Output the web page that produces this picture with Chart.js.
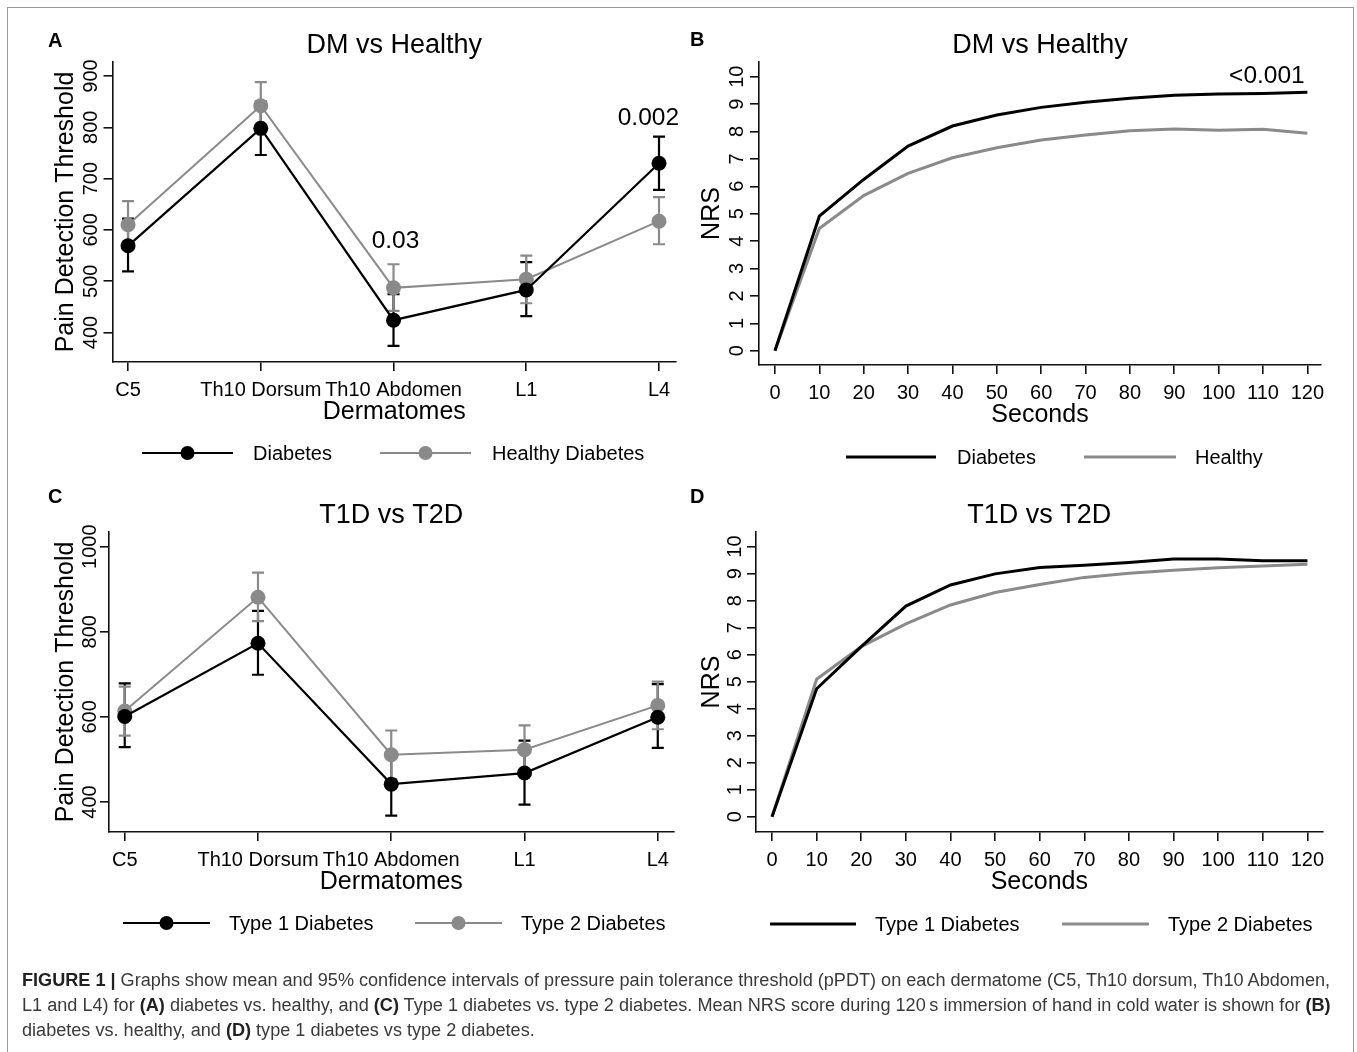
<html lang="en">
<head>
  <meta charset="UTF-8" />
  <title>Figure 1</title>
  <script src="https://cdn.jsdelivr.net/npm/chart.js"></script>
  <style>
    body { margin: 0; width: 1357px; height: 1052px; overflow: hidden; background: #fff; position: relative;
           font-family: "Liberation Sans", Arial, sans-serif; }
    #frame { position: absolute; left: 7px; top: 7px; width: 1345px; height: 1100px; border: 1.5px solid #999; }
    canvas { position: absolute; left: 0; top: 0; }
    .cap { position: absolute; left: 22px; white-space: nowrap; font-size: 18px; line-height: 22px; color: #3a3a3a; transform-origin: 0 0; }
    .cap b { color: #222; }
  </style>
</head>
<body>
  <div id="frame"></div>
  <canvas id="chartA" width="1357" height="1052"></canvas>
  <canvas id="chartB" width="1357" height="1052"></canvas>
  <canvas id="chartC" width="1357" height="1052"></canvas>
  <canvas id="chartD" width="1357" height="1052"></canvas>

  <div class="cap" style="top:969px"><b>FIGURE 1 |</b> Graphs show mean and 95% confidence intervals of pressure pain tolerance threshold (pPDT) on each dermatome (C5, Th10 dorsum, Th10 Abdomen,</div>
  <div class="cap" style="top:994px">L1 and L4) for <b>(A)</b> diabetes vs. healthy, and <b>(C)</b> Type 1 diabetes vs. type 2 diabetes. Mean NRS score during 120&thinsp;s immersion of hand in cold water is shown for <b>(B)</b></div>
  <div class="cap" style="top:1019px">diabetes vs. healthy, and <b>(D)</b> type 1 diabetes vs type 2 diabetes.</div>

  <script>
    // categories / ticks
    const dermatomes = ['C5', 'Th10 Dorsum', 'Th10 Abdomen', 'L1', 'L4'];
    const seconds = [0, 10, 20, 30, 40, 50, 60, 70, 80, 90, 100, 110, 120];
    const pdtTicksA = [400, 500, 600, 700, 800, 900];
    const pdtTicksC = [400, 600, 800, 1000];
    const nrsTicks = [0, 1, 2, 3, 4, 5, 6, 7, 8, 9, 10];

    // A: pain detection threshold, DM vs healthy (mean, 95% CI)
    const dmMean = [569, 798, 424, 483, 730];
    const dmLo = [519, 746, 374, 432, 678];
    const dmHi = [622, 850, 475, 537, 782];
    const healthyMean = [610, 842, 487, 504, 617];
    const healthyLo = [563, 795, 442, 457, 572];
    const healthyHi = [656, 888, 533, 550, 664];

    // B: NRS over time, DM vs healthy
    const dmNrs = [0, 4.91, 6.25, 7.47, 8.2, 8.6, 8.88, 9.07, 9.21, 9.32, 9.37, 9.39, 9.43];
    const healthyNrs = [0, 4.46, 5.66, 6.47, 7.04, 7.41, 7.69, 7.87, 8.03, 8.09, 8.05, 8.08, 7.94];

    // C: pain detection threshold, T1D vs T2D
    const t1Mean = [601, 773, 442, 468, 599];
    const t1Lo = [529, 699, 368, 394, 527];
    const t1Hi = [679, 849, 516, 544, 677];
    const t2Mean = [614, 881, 511, 523, 627];
    const t2Lo = [556, 825, 454, 466, 571];
    const t2Hi = [671, 939, 568, 580, 683];

    // D: NRS over time, T1D vs T2D
    const t1Nrs = [0, 4.74, 6.3, 7.8, 8.58, 8.99, 9.23, 9.31, 9.41, 9.54, 9.54, 9.48, 9.48];
    const t2Nrs = [0, 5.09, 6.3, 7.14, 7.84, 8.3, 8.6, 8.86, 9.01, 9.12, 9.22, 9.28, 9.35];

    const FONT = '"Liberation Sans", Arial, sans-serif';
    const BLACK = '#000';
    const GRAY = '#8a8a8a';

    function txt(ctx, s, x, y, size, o = {}) {
      ctx.save();
      ctx.font = (o.bold ? 'bold ' : '') + size + 'px ' + FONT;
      ctx.fillStyle = o.color || '#000';
      ctx.textAlign = o.align || 'center';
      ctx.textBaseline = 'alphabetic';
      ctx.translate(x, y);
      if (o.rot) ctx.rotate(o.rot);
      ctx.fillText(s, 0, 0);
      ctx.restore();
    }

    // error bars, titles, tick labels, notes and legend
    const deco = {
      id: 'deco',
      beforeDatasetsDraw(chart) {
        const ctx = chart.ctx, xs = chart.scales.x, ys = chart.scales.y;
        chart.data.datasets.forEach(ds => {
          if (!ds.lo) return;
          ctx.save();
          ctx.strokeStyle = ds.borderColor;
          ctx.lineWidth = 2.2;
          ds.data.forEach((p, i) => {
            const x = xs.getPixelForValue(p.x);
            const y1 = ys.getPixelForValue(ds.lo[i]), y2 = ys.getPixelForValue(ds.hi[i]);
            ctx.beginPath();
            ctx.moveTo(x, y1); ctx.lineTo(x, y2);
            ctx.moveTo(x - 6, y1); ctx.lineTo(x + 6, y1);
            ctx.moveTo(x - 6, y2); ctx.lineTo(x + 6, y2);
            ctx.stroke();
          });
          ctx.restore();
        });
      },
      afterDraw(chart, args, o) {
        const ctx = chart.ctx, a = chart.chartArea, xs = chart.scales.x, ys = chart.scales.y;
        const midX = (a.left + a.right) / 2, midY = (a.top + a.bottom) / 2;
        txt(ctx, o.letter, o.letterX, o.letterY, 20, { bold: true, align: 'left' });
        txt(ctx, o.title, midX, a.top - 9, 27);
        xs.ticks.forEach(t => txt(ctx, o.xLabel(t.value), xs.getPixelForValue(t.value), a.bottom + 34, 20));
        ys.ticks.forEach(t => txt(ctx, String(t.value), a.left - o.yOff, ys.getPixelForValue(t.value), 20, { rot: -Math.PI / 2 }));
        txt(ctx, o.xTitle, midX, a.bottom + 57, 25);
        txt(ctx, o.yTitle, a.left - o.yTitleOff, midY, 25, { rot: -Math.PI / 2 });
        (o.notes || []).forEach(n =>
          txt(ctx, n.text, xs.getPixelForValue(n.x), ys.getPixelForValue(n.y), 24.5, { align: n.align || 'center' }));
        chart.data.datasets.forEach((ds, i) => {
          const L = o.legend[i];
          ctx.save();
          ctx.strokeStyle = ds.borderColor;
          ctx.lineWidth = ds.borderWidth;
          ctx.beginPath(); ctx.moveTo(L.x0, L.y); ctx.lineTo(L.x1, L.y); ctx.stroke();
          if (ds.pointRadius > 0) {
            ctx.fillStyle = ds.borderColor;
            ctx.beginPath(); ctx.arc((L.x0 + L.x1) / 2, L.y, ds.pointRadius - 0.5, 0, 2 * Math.PI); ctx.fill();
          }
          ctx.restore();
          txt(ctx, ds.label, L.tx, L.y + 7, 20, { align: 'left' });
        });
      }
    };

    function axes(xr, yr, xTicks, yTicks) {
      const common = {
        type: 'linear',
        border: { display: true, color: '#111', width: 1.6 },
        grid: { display: true, drawOnChartArea: false, drawTicks: true, tickLength: 9, color: '#111', lineWidth: 1.6 },
        ticks: { display: false }
      };
      return {
        x: { ...common, min: xr[0], max: xr[1], afterBuildTicks: s => { s.ticks = xTicks.map(v => ({ value: v })); } },
        y: { ...common, min: yr[0], max: yr[1], afterBuildTicks: s => { s.ticks = yTicks.map(v => ({ value: v })); } }
      };
    }

    function series(label, xs, ys, color, width, radius, lo, hi) {
      return {
        label, data: xs.map((x, i) => ({ x, y: ys[i] })),
        borderColor: color, backgroundColor: color, borderWidth: width,
        pointRadius: radius, pointHoverRadius: radius, pointBorderWidth: 0, pointBackgroundColor: color,
        tension: 0, lo, hi
      };
    }

    function makeChart(id, datasets, scales, pad, decoOpts) {
      new Chart(document.getElementById(id), {
        type: 'line',
        data: { datasets },
        options: {
          responsive: false, animation: false, events: [],
          layout: { padding: pad },
          scales,
          plugins: { legend: { display: false }, tooltip: { enabled: false }, title: { display: false }, deco: decoOpts }
        },
        plugins: [deco]
      });
    }

    const idx = dermatomes.map((_, i) => i);
    const catLabel = v => dermatomes[Math.round(v)];

    makeChart('chartA', [
      series('Diabetes', idx, dmMean, BLACK, 2.2, 7.5, dmLo, dmHi),
      series('Healthy Diabetes', idx, healthyMean, GRAY, 2, 7.5, healthyLo, healthyHi)
    ], axes([-0.117, 4.128], [342.5, 927.3], idx, pdtTicksA),
      { left: 103.5, top: 62, right: 681, bottom: 681 },
      { letter: 'A', letterX: 48, letterY: 47, title: 'DM vs Healthy', xTitle: 'Dermatomes', yTitle: 'Pain Detection Threshold',
        xLabel: catLabel, yOff: 16, yTitleOff: 39.5,
        notes: [{ text: '0.03', x: 2.015, y: 565 }, { text: '0.002', x: 3.92, y: 804 }],
        legend: [{ x0: 142, x1: 233, y: 453, tx: 253 }, { x0: 380, x1: 471, y: 453, tx: 492 }] });

    makeChart('chartB', [
      series('Diabetes', seconds, dmNrs, BLACK, 3, 0),
      series('Healthy', seconds, healthyNrs, GRAY, 3, 0)
    ], axes([-3.6, 123.07], [-0.52, 10.536], seconds, nrsTicks),
      { left: 750, top: 62, right: 36, bottom: 678 },
      { letter: 'B', letterX: 690, letterY: 46, title: 'DM vs Healthy', xTitle: 'Seconds', yTitle: 'NRS',
        xLabel: v => String(v), yOff: 16.5, yTitleOff: 40.5,
        notes: [{ text: '<0.001', x: 119.4, y: 9.77, align: 'right' }],
        legend: [{ x0: 846, x1: 936, y: 457, tx: 957 }, { x0: 1084, x1: 1176, y: 457, tx: 1195 }] });

    makeChart('chartC', [
      series('Type 1 Diabetes', idx, t1Mean, BLACK, 2.2, 7.5, t1Lo, t1Hi),
      series('Type 2 Diabetes', idx, t2Mean, GRAY, 2, 7.5, t2Lo, t2Hi)
    ], axes([-0.118, 4.118], [329.5, 1034.5], idx, pdtTicksC),
      { left: 100, top: 532, right: 683.5, bottom: 211 },
      { letter: 'C', letterX: 48, letterY: 503, title: 'T1D vs T2D', xTitle: 'Dermatomes', yTitle: 'Pain Detection Threshold',
        xLabel: catLabel, yOff: 13, yTitleOff: 36,
        legend: [{ x0: 123, x1: 210, y: 923, tx: 229 }, { x0: 415, x1: 502, y: 923, tx: 521 }] });

    makeChart('chartD', [
      series('Type 1 Diabetes', seconds, t1Nrs, BLACK, 3, 0),
      series('Type 2 Diabetes', seconds, t2Nrs, GRAY, 3, 0)
    ], axes([-3.59, 123.4], [-0.563, 10.54], seconds, nrsTicks),
      { left: 747, top: 532, right: 34.4, bottom: 211 },
      { letter: 'D', letterX: 690, letterY: 503, title: 'T1D vs T2D', xTitle: 'Seconds', yTitle: 'NRS',
        xLabel: v => String(v), yOff: 15.5, yTitleOff: 37.5,
        legend: [{ x0: 770, x1: 856, y: 924, tx: 875 }, { x0: 1062, x1: 1149, y: 924, tx: 1168 }] });

    // squeeze caption lines to the reference line length
    const caps = document.querySelectorAll('.cap');
    const k = 1308 / caps[0].scrollWidth;
    caps.forEach(c => { c.style.transform = 'scaleX(' + k + ')'; });
  </script>
</body>
</html>
